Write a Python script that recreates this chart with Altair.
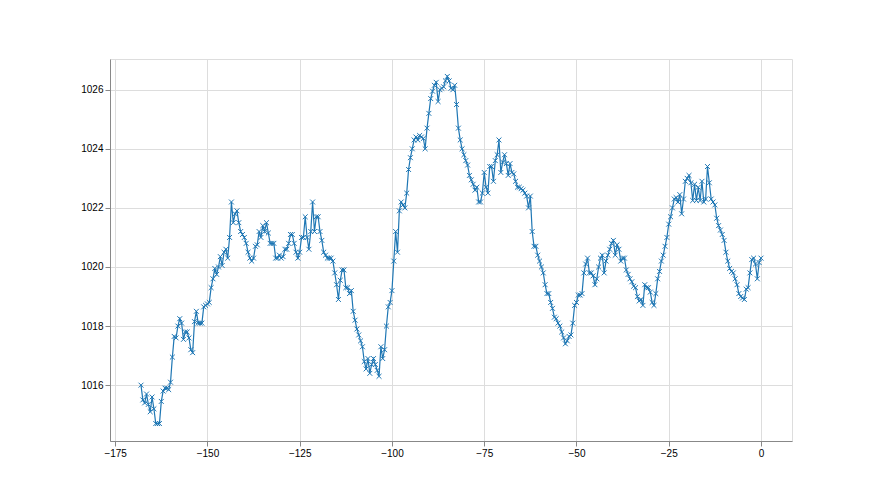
import altair as alt
import pandas as pd

# Pressure readings (hPa), half-hour steps ending at hour 0
pressure = [
    1016.0, 1015.5, 1015.4, 1015.7, 1015.35, 1015.1, 1015.6, 1015.2, 1014.7, 1014.7,
    1014.7, 1015.45, 1015.8, 1015.9, 1015.9, 1015.85, 1016.1, 1016.95, 1017.65, 1017.6,
    1018.0, 1018.25, 1018.1, 1017.55, 1017.8, 1017.8, 1017.6, 1017.2, 1017.1, 1018.15,
    1018.5, 1018.1, 1018.1, 1018.1, 1018.65, 1018.7, 1018.75, 1018.8, 1019.3, 1019.6,
    1019.95, 1019.75, 1020.0, 1020.35, 1020.05, 1020.5, 1020.6, 1020.3, 1021.0, 1022.2,
    1021.5, 1021.8, 1021.9, 1021.5, 1021.2, 1021.1, 1021.0, 1020.8, 1020.5, 1020.3,
    1020.2, 1020.3, 1020.7, 1020.75, 1021.2, 1021.0, 1021.4, 1021.2, 1021.5, 1021.15,
    1020.8, 1020.8, 1020.8, 1020.3, 1020.3, 1020.4, 1020.3, 1020.35, 1020.6, 1020.6,
    1020.8, 1021.1, 1021.1, 1020.8, 1020.5, 1020.3, 1020.5, 1021.0, 1021.0, 1021.7,
    1021.0, 1020.6, 1021.2, 1022.2, 1021.2, 1021.7, 1021.7, 1021.2, 1020.9, 1020.5,
    1020.4, 1020.3, 1020.3, 1020.3, 1020.2, 1019.8, 1019.4, 1018.9, 1019.55, 1019.9,
    1019.9, 1019.3, 1019.3, 1019.1, 1019.2, 1018.5, 1018.2, 1017.9, 1017.7, 1017.5,
    1017.3, 1016.8, 1016.55, 1016.9, 1016.4, 1016.7, 1016.9, 1016.7, 1016.5, 1016.3,
    1017.3, 1016.9, 1017.2, 1018.0, 1018.65, 1018.8, 1019.2, 1020.2, 1021.2, 1020.5,
    1021.9, 1022.2, 1022.1, 1022.0, 1022.5, 1023.3, 1023.7, 1024.0, 1024.3, 1024.4,
    1024.3, 1024.45, 1024.4, 1024.35, 1024.0, 1024.7, 1025.2, 1025.7, 1025.95, 1026.15,
    1026.25, 1025.6, 1026.0, 1026.05, 1026.1, 1026.3, 1026.45, 1026.3, 1026.05, 1026.0,
    1026.15, 1025.5, 1024.7, 1024.3, 1024.0, 1023.8, 1023.6, 1023.45, 1023.1, 1022.95,
    1022.8, 1022.6, 1022.7, 1022.2, 1022.2, 1022.5, 1023.2, 1022.7, 1022.5, 1023.4,
    1023.4, 1022.9, 1023.6, 1023.8, 1024.3, 1023.2, 1023.55, 1023.8, 1023.5, 1023.1,
    1023.5, 1023.2, 1023.15, 1022.9, 1022.7, 1022.7, 1022.65, 1022.6, 1022.5, 1022.4,
    1022.0, 1022.4, 1021.2, 1020.7, 1020.7, 1020.4, 1020.2, 1020.0, 1019.8, 1019.4,
    1019.1, 1019.1, 1018.8, 1018.6, 1018.3, 1018.25, 1018.1, 1018.0, 1017.8, 1017.6,
    1017.4, 1017.5, 1017.65, 1017.7, 1018.1, 1018.7, 1018.8, 1019.05, 1019.05, 1019.1,
    1019.8, 1020.1, 1020.3, 1019.8, 1019.8, 1019.7, 1019.4, 1019.6, 1020.0, 1020.3,
    1020.4, 1019.8, 1020.2, 1020.4, 1020.6, 1020.8, 1020.9, 1020.4, 1020.75, 1020.6,
    1020.2, 1020.3, 1020.3, 1019.9, 1019.75, 1019.6, 1019.5, 1019.35, 1019.3, 1019.0,
    1018.85, 1018.9, 1018.7, 1019.4, 1019.3, 1019.3, 1019.15, 1018.8, 1018.7, 1019.1,
    1019.6, 1019.85, 1020.2, 1020.4, 1020.7, 1021.0, 1021.45, 1021.7, 1022.0, 1022.3,
    1022.35, 1022.2, 1022.45, 1021.8, 1022.3, 1022.9, 1023.0, 1023.1, 1022.85, 1022.25,
    1022.8, 1022.25, 1022.7, 1022.25, 1022.9, 1022.2, 1022.3, 1023.4, 1022.85, 1022.3,
    1022.2, 1022.1, 1021.65, 1021.4, 1021.25, 1021.1, 1020.9, 1020.5, 1020.2, 1019.95,
    1019.85, 1019.8, 1019.6, 1019.4, 1019.1, 1019.0, 1018.95, 1018.9, 1019.25, 1019.3,
    1019.8, 1020.25, 1020.3, 1020.1, 1019.6, 1020.15, 1020.3,
]
n = len(pressure)
hours = [-(n - 1 - i) * 0.5 for i in range(n)]

x_ticks = [-175, -150, -125, -100, -75, -50, -25, 0]
y_ticks = [1016, 1018, 1020, 1022, 1024, 1026]

df = pd.DataFrame({"hour": hours, "pressure": pressure})

blue = "#1f77b4"
x_enc = alt.X("hour:Q", scale=alt.Scale(domain=[-176.4, 8.4], nice=False, zero=False),
              axis=alt.Axis(values=x_ticks, title=None, grid=True))
y_enc = alt.Y("pressure:Q", scale=alt.Scale(domain=[1014.11, 1027.04], nice=False, zero=False),
              axis=alt.Axis(values=y_ticks, title=None, grid=True, format="d"))

base = alt.Chart(df)
line = base.mark_line(color=blue, strokeWidth=1.2).encode(x=x_enc, y=y_enc)
pts = base.mark_point(shape="M-1,-1L1,1M-1,1L1,-1", color=blue, size=24,
                      strokeWidth=1, filled=False, opacity=1).encode(x=x_enc, y=y_enc)

chart = (
    alt.layer(line, pts)
    .properties(width=682, height=382,
                autosize=alt.AutoSizeParams(type="none"),
                padding={"left": 102, "top": 51, "right": 80, "bottom": 46})
    .configure_view(stroke="#000000", strokeWidth=1)
    .configure_axis(
        domainColor="#000000", domainWidth=1, tickColor="#000000", tickSize=3.5,
        tickWidth=1, labelFont="DejaVu Sans", labelFontSize=9, labelColor="black",
        labelPadding=3, gridColor="#b0b0b0", gridWidth=1, gridOpacity=1,
    )
    .configure(background="white")
)

chart.save("out.html", embed_options={"renderer": "svg", "actions": False})
